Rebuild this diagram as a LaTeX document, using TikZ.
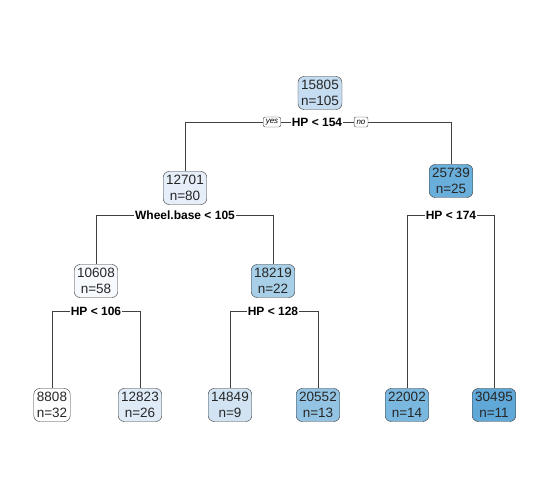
\documentclass[tikz,border=0pt]{standalone}
\usepackage{fontspec}
\setmainfont{Liberation Sans}
\definecolor{bl0}{HTML}{FFFFFF}
\definecolor{bl1}{HTML}{F6F9FD}
\definecolor{bl2}{HTML}{E6EFF9}
\definecolor{bl3}{HTML}{DFEBF7}
\definecolor{bl4}{HTML}{D2E4F4}
\definecolor{bl5}{HTML}{C6DCF0}
\definecolor{bl6}{HTML}{A8CFE8}
\definecolor{bl7}{HTML}{93C4E3}
\definecolor{bl8}{HTML}{7AB8E0}
\definecolor{bl9}{HTML}{6AAFDB}
\definecolor{bl10}{HTML}{60A8D7}
\begin{document}
\begin{tikzpicture}[x=1pt,y=-1pt,
    box/.style={draw=black!80,rounded corners=6pt,align=center,font=\fontsize{13.5}{15.5}\selectfont,text=black!85,inner sep=3pt,minimum height=33pt},
    split/.style={font=\fontsize{12}{14}\selectfont\bfseries,fill=white,inner sep=1pt},
    tag/.style={draw=black!75,rounded corners=2pt,fill=white,font=\fontsize{8}{9}\selectfont\itshape,inner xsep=2.5pt,inner ysep=1pt,minimum height=10pt}]
    \useasboundingbox (0,0) rectangle (550,500);
    % nodes
    \node[box,fill=bl5] (n1) at (320,93) {15805\\n=105};
    \node[box,fill=bl2] (n2) at (185,188) {12701\\n=80};
    \node[box,fill=bl9] (n3) at (451,181) {25739\\n=25};
    \node[box,fill=bl1] (n4) at (96,281) {10608\\n=58};
    \node[box,fill=bl6] (n5) at (273,281) {18219\\n=22};
    \node[box,fill=bl0] (n8) at (52,405) {8808\\n=32};
    \node[box,fill=bl3] (n9) at (140,405) {12823\\n=26};
    \node[box,fill=bl4] (n10) at (230,405) {14849\\n=9};
    \node[box,fill=bl7] (n11) at (318,405) {20552\\n=13};
    \node[box,fill=bl8] (n6) at (407,405) {22002\\n=14};
    \node[box,fill=bl10] (n7) at (494,405) {30495\\n=11};
    % splits
    \node[split] (s1) at (317,122) {HP < 154};
    \node[split] (s2) at (185,215) {Wheel.base < 105};
    \node[split] (s3) at (451,215) {HP < 174};
    \node[split] (s4) at (96,311) {HP < 106};
    \node[split] (s5) at (273,311) {HP < 128};
    \node[tag] (yes) at (272,122) {yes};
    \node[tag] (no) at (361,122) {no};
    % connectors
    \draw[black!75] (s1.west) -- (yes.east) (yes.west) -| (n2.north);
    \draw[black!75] (s1.east) -- (no.west) (no.east) -| (n3.north);
    \draw[black!75] (s2.west) -| (n4.north);
    \draw[black!75] (s2.east) -| (n5.north);
    \draw[black!75] (s3.west) -| (n6.north);
    \draw[black!75] (s3.east) -| (n7.north);
    \draw[black!75] (s4.west) -| (n8.north);
    \draw[black!75] (s4.east) -| (n9.north);
    \draw[black!75] (s5.west) -| (n10.north);
    \draw[black!75] (s5.east) -| (n11.north);
\end{tikzpicture}
\end{document}
